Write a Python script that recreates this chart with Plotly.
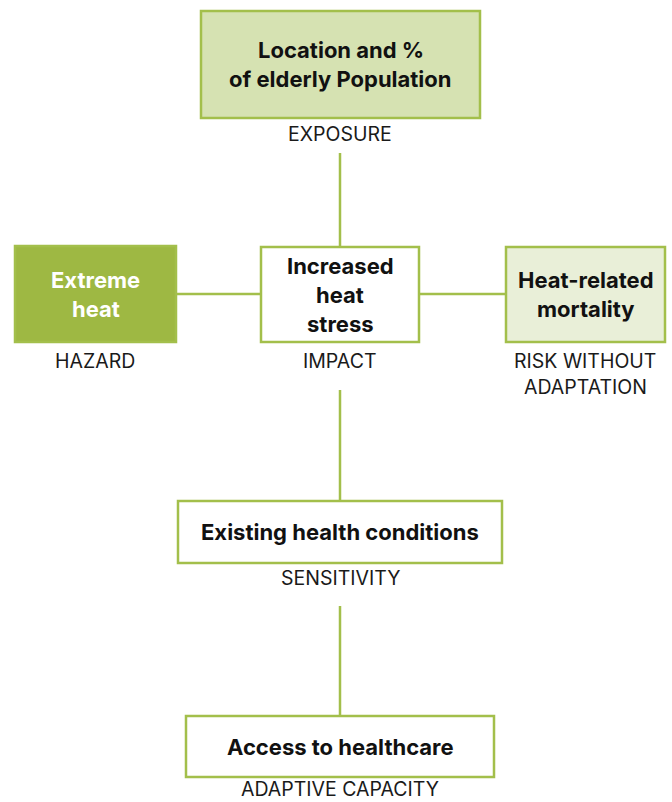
import plotly.graph_objects as go

# ---- diagram content ----
node_texts = [
    ["Location and %", "of elderly Population"],
    ["Extreme", "heat"],
    ["Increased", "heat", "stress"],
    ["Heat-related", "mortality"],
    ["Existing health conditions"],
    ["Access to healthcare"],
]
node_labels = [
    ["EXPOSURE"],
    ["HAZARD"],
    ["IMPACT"],
    ["RISK WITHOUT", "ADAPTATION"],
    ["SENSITIVITY"],
    ["ADAPTIVE CAPACITY"],
]

# ---- layout (pixel space, y downward) ----
node_boxes = [  # x0, y0, x1, y1
    (201, 11, 480, 118),
    (15, 246, 176, 342),
    (261, 247, 419, 342),
    (506, 247, 665, 342),
    (178, 501, 502, 563),
    (186, 716, 494, 777),
]
node_fills = ["#d6e2b2", "#9eb843", "#ffffff", "#e9efd8", "#ffffff", "#ffffff"]
node_text_colors = ["#111111", "#ffffff", "#111111", "#111111", "#111111", "#111111"]
label_pos = [(340, 134), (95, 361), (340, 361), (585, 361), (340, 578), (340, 789)]
connectors = [  # x0, y0, x1, y1
    (340, 153, 340, 247),
    (176, 294, 261, 294),
    (419, 294, 506, 294),
    (340, 390, 340, 501),
    (340, 606, 340, 716),
]
GREEN = "#a3bf4b"
FONT = "Inter, Open Sans, sans-serif"
BOX_LINE_GAP = 29
LABEL_LINE_GAP = 26

fig = go.Figure()
shapes = []
for (x0, y0, x1, y1) in connectors:
    shapes.append(dict(type="line", x0=x0, y0=y0, x1=x1, y1=y1, xref="x", yref="y",
                       line=dict(color=GREEN, width=2.5)))
for (x0, y0, x1, y1), fc in zip(node_boxes, node_fills):
    shapes.append(dict(type="rect", x0=x0, y0=y0, x1=x1, y1=y1, xref="x", yref="y",
                       fillcolor=fc, line=dict(color=GREEN, width=2.5)))

annotations = []
for (x0, y0, x1, y1), lines, tc in zip(node_boxes, node_texts, node_text_colors):
    cx, cy = (x0 + x1) / 2, (y0 + y1) / 2
    n = len(lines)
    for i, t in enumerate(lines):
        yy = cy + (i - (n - 1) / 2) * BOX_LINE_GAP
        annotations.append(dict(x=cx, y=yy, xref="x", yref="y",
                                text="<b>" + t + "</b>", showarrow=False,
                                font=dict(family=FONT, size=22, color=tc)))
for (lx, ly), lines in zip(label_pos, node_labels):
    for i, t in enumerate(lines):
        annotations.append(dict(x=lx, y=ly + i * LABEL_LINE_GAP, xref="x", yref="y",
                                text=t, showarrow=False,
                                font=dict(family=FONT, size=19.5, color="#1a1a1a")))

fig.update_layout(
    width=672, height=802,
    margin=dict(l=0, r=0, t=0, b=0),
    paper_bgcolor="white", plot_bgcolor="white",
    xaxis=dict(range=[0, 672], visible=False, fixedrange=True),
    yaxis=dict(range=[802, 0], visible=False, fixedrange=True),
    shapes=shapes, annotations=annotations, showlegend=False,
)
fig.write_html("out.html", config={"displayModeBar": False},
               post_script="document.body.style.margin='0';document.body.style.overflow='hidden';")
